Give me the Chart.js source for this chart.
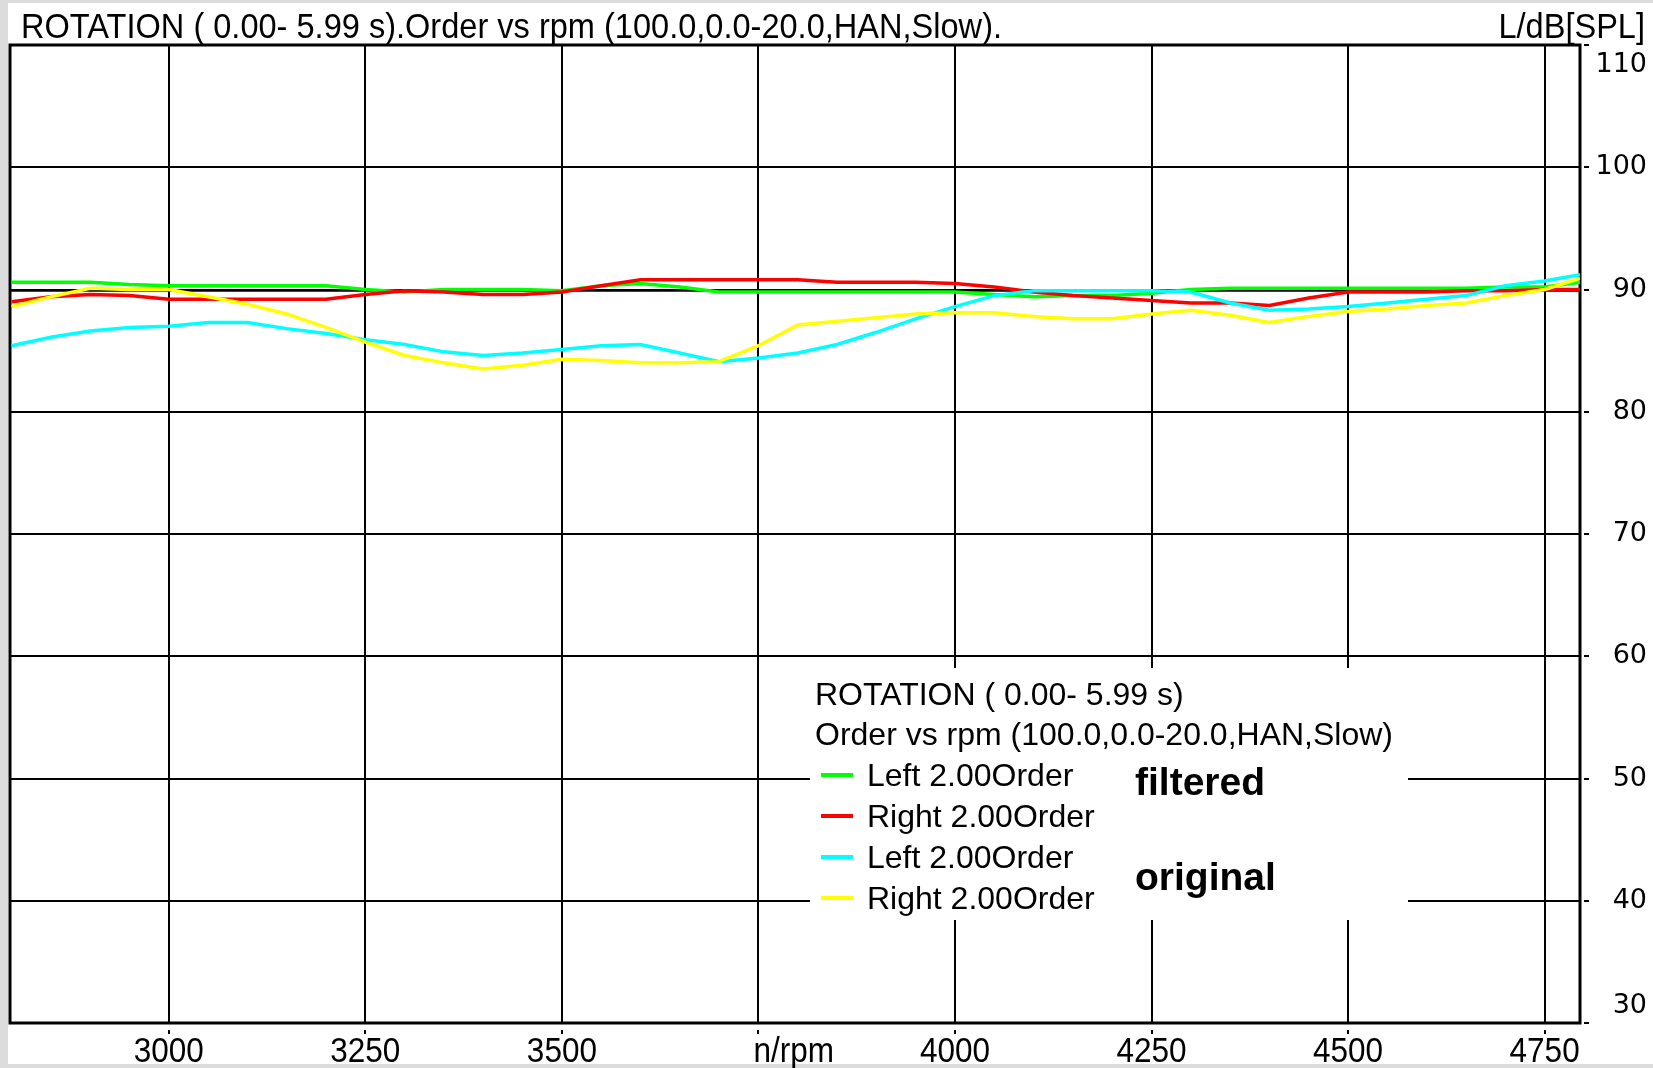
<!DOCTYPE html>
<html>
<head>
<meta charset="utf-8">
<script src="https://cdn.jsdelivr.net/npm/chart.js@4.4.0/dist/chart.umd.min.js"></script>
<style>
  html, body { margin: 0; padding: 0; background: #fff; }
  #wrap { width: 1653px; height: 1068px; }
</style>
</head>
<body>
<div id="wrap"><canvas id="orderChart" width="1653" height="1068"></canvas></div>
<script>
// rpm sample points (x)
const rpm = [2800, 2850, 2900, 2950, 3000, 3050, 3100, 3150, 3200, 3250,
             3300, 3350, 3400, 3450, 3500, 3550, 3600, 3650, 3700, 3750,
             3800, 3850, 3900, 3950, 4000, 4050, 4100, 4150, 4200, 4250,
             4300, 4350, 4400, 4450, 4500, 4550, 4600, 4650, 4700, 4750, 4795];

// dB levels
const leftFiltered = [90.6, 90.6, 90.6, 90.4, 90.3, 90.3, 90.3, 90.3, 90.3, 90.0,
                      89.8, 90.0, 90.0, 90.0, 89.9, 90.3, 90.5, 90.2, 89.8, 89.8,
                      89.8, 89.8, 89.8, 89.8, 89.8, 89.6, 89.4, 89.5, 89.5, 89.7,
                      90.0, 90.1, 90.1, 90.1, 90.1, 90.1, 90.1, 90.1, 90.2, 90.2, 90.6];
const rightFiltered = [89.0, 89.4, 89.6, 89.5, 89.2, 89.2, 89.2, 89.2, 89.2, 89.6,
                       89.9, 89.8, 89.6, 89.6, 89.8, 90.3, 90.8, 90.8, 90.8, 90.8,
                       90.8, 90.6, 90.6, 90.6, 90.5, 90.2, 89.8, 89.5, 89.3, 89.1,
                       88.9, 88.9, 88.7, 89.3, 89.8, 89.8, 89.8, 89.9, 89.9, 90.0, 90.0];
const leftOriginal = [85.4, 86.1, 86.6, 86.9, 87.0, 87.3, 87.3, 86.8, 86.4, 85.9,
                      85.5, 84.9, 84.6, 84.8, 85.1, 85.4, 85.5, 84.8, 84.1, 84.4,
                      84.8, 85.5, 86.5, 87.6, 88.6, 89.5, 89.9, 89.9, 89.9, 89.9,
                      89.8, 88.9, 88.3, 88.4, 88.6, 88.9, 89.2, 89.5, 90.3, 90.7, 91.2];
const rightOriginal = [88.6, 89.4, 90.1, 90.0, 90.0, 89.4, 88.8, 88.0, 86.9, 85.7,
                       84.6, 84.0, 83.5, 83.8, 84.3, 84.2, 84.0, 84.0, 84.1, 85.4,
                       87.1, 87.4, 87.7, 88.0, 88.1, 88.1, 87.8, 87.6, 87.6, 88.0,
                       88.3, 87.9, 87.3, 87.8, 88.2, 88.4, 88.7, 88.9, 89.5, 90.0, 90.9];

// black reference line under the curves
const refRpm = [2798, 4795];
const refLevel = [89.9, 89.9];

const xTicks = [3000, 3250, 3500, 3750, 4000, 4250, 4500, 4750];
const xTickLabels = ["3000", "3250", "3500", "n/rpm", "4000", "4250", "4500", "4750"];
const yTicks = [30, 40, 50, 60, 70, 80, 90, 100, 110];

const titleText = "ROTATION ( 0.00- 5.99 s).Order vs rpm (100.0,0.0-20.0,HAN,Slow).";
const unitText = "L/dB[SPL]";
const legendHead = ["ROTATION ( 0.00- 5.99 s)", "Order vs rpm (100.0,0.0-20.0,HAN,Slow)"];
const seriesLabels = ["Left 2.00Order", "Right 2.00Order", "Left 2.00Order", "Right 2.00Order"];
const seriesColors = ["#00ff00", "#ff0000", "#00ffff", "#ffff00"];
const groupNotes = ["filtered", "original"];

const FONT = "'Liberation Sans', Arial, sans-serif";

function pts(xs, ys) {
    return xs.map((x, i) => ({ x: x, y: ys[i] }));
}

// text squeezed horizontally, like the old bitmap font
function narrowText(c, text, x, y, align, sx) {
    c.save();
    c.translate(x, y);
    c.scale(sx, 1);
    c.textAlign = align;
    c.fillText(text, 0, 0);
    c.restore();
}

const decor = {
    id: "decor",
    beforeDraw(chart) {
        const c = chart.ctx;
        c.save();
        c.fillStyle = "#fff";
        c.fillRect(0, 0, chart.width, chart.height);
        c.fillStyle = "#dcdcdc";
        c.fillRect(0, 0, chart.width, 3);
        c.fillRect(0, 0, 8, chart.height);
        c.fillRect(0, chart.height - 4, chart.width, 4);
        c.restore();
    },
    beforeDatasetsDraw(chart) {
        const c = chart.ctx;
        const a = chart.chartArea;
        c.save();
        // legend box sits on top of the grid
        c.fillStyle = "#fff";
        c.fillRect(810, 668, 598, 252);
        c.fillStyle = "#000";
        c.font = "32px " + FONT;
        c.textAlign = "left";
        c.textBaseline = "alphabetic";
        c.fillText(legendHead[0], 815, 705);
        c.fillText(legendHead[1], 815, 745);
        seriesLabels.forEach((t, i) => {
            const yb = 786 + i * 41;
            c.fillStyle = seriesColors[i];
            c.fillRect(821, yb - 13, 32, 4);
            c.fillStyle = "#000";
            c.fillText(t, 867, yb);
        });
        c.font = "bold 39px " + FONT;
        c.fillText(groupNotes[0], 1135, 795);
        c.fillText(groupNotes[1], 1135, 890);

        // plot frame
        c.strokeStyle = "#000";
        c.lineWidth = 3;
        c.strokeRect(a.left, a.top, a.right - a.left, a.bottom - a.top);
        c.restore();
    },
    afterDraw(chart) {
        const c = chart.ctx;
        const a = chart.chartArea;
        const xs = chart.scales.x;
        const ys = chart.scales.y;
        c.save();
        c.fillStyle = "#000";
        c.font = "35px " + FONT;
        c.textBaseline = "alphabetic";
        narrowText(c, titleText, 21, 38, "left", 0.93);
        narrowText(c, unitText, 1645, 38, "right", 0.93);

        // y labels on the right, kept inside the plot height
        c.font = "27px 'DejaVu Sans', sans-serif";
        c.textBaseline = "middle";
        c.textAlign = "right";
        yTicks.forEach(v => {
            const py = ys.getPixelForValue(v);
            c.fillRect(a.right + 4, Math.round(py) - 1, 5, 2);
            const ly = Math.min(Math.max(py, a.top + 20), a.bottom - 17);
            c.fillText(String(v), 1647, ly);
        });

        // x labels under the frame; the unit sits at 3750
        c.font = "35px " + FONT;
        c.textBaseline = "alphabetic";
        xTicks.forEach((v, i) => {
            const px = xs.getPixelForValue(v);
            c.fillRect(Math.round(px) - 1, a.bottom + 7, 2, 4);
            const t = xTickLabels[i];
            if (t === "n/rpm") {
                narrowText(c, t, px - 5, 1062, "left", 0.9);
            } else {
                narrowText(c, t, px, 1062, "center", 0.9);
            }
        });
        c.restore();
    }
};

const ctx = document.getElementById("orderChart");

new Chart(ctx, {
    type: "line",
    data: {
        datasets: [
            { label: seriesLabels[0], data: pts(rpm, leftFiltered), borderColor: seriesColors[0], order: 4 },
            { label: seriesLabels[1], data: pts(rpm, rightFiltered), borderColor: seriesColors[1], order: 3 },
            { label: seriesLabels[2], data: pts(rpm, leftOriginal), borderColor: seriesColors[2], order: 2 },
            { label: seriesLabels[3], data: pts(rpm, rightOriginal), borderColor: seriesColors[3], order: 1 },
            { label: "ref", data: pts(refRpm, refLevel), borderColor: "#000", borderWidth: 2, order: 5 },
        ],
    },
    options: {
        responsive: false,
        animation: false,
        devicePixelRatio: 1,
        layout: { padding: { left: 10, top: 45, right: 0, bottom: 0 } },
        elements: {
            point: { radius: 0 },
            line: { borderWidth: 3.5, tension: 0, fill: false },
        },
        plugins: {
            legend: { display: false },
            tooltip: { enabled: false },
        },
        scales: {
            x: {
                type: "linear",
                min: 2798,
                max: 4795,
                afterBuildTicks: (s) => { s.ticks = xTicks.map(v => ({ value: v })); },
                afterFit: (s) => { s.height = 45; },
                grid: { color: "#000", lineWidth: 2, drawTicks: false },
                border: { display: false },
                ticks: { display: false },
            },
            y: {
                position: "right",
                min: 30,
                max: 110,
                afterBuildTicks: (s) => { s.ticks = yTicks.map(v => ({ value: v })); },
                afterFit: (s) => { s.width = 73; },
                grid: { color: "#000", lineWidth: 2, drawTicks: false },
                border: { display: false },
                ticks: { display: false },
            },
        },
    },
    plugins: [decor],
});
</script>
</body>
</html>
